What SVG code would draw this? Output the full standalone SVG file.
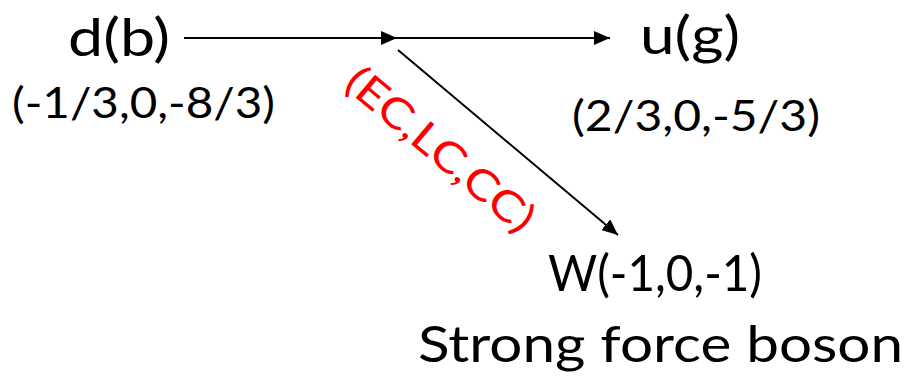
<svg xmlns="http://www.w3.org/2000/svg" width="907" height="376" viewBox="0 0 907 376">
  <style>
    text { font-family: Lato, "Noto Sans", "Liberation Sans", sans-serif; fill: #000; }
    .big { font-size: 53px; }
    .mid { font-size: 43px; }
    .lab { font-size: 50px; }
    .red { font-size: 42px; fill: #ff0000; }
    .wire { stroke: #000; stroke-width: 2; fill: none; marker-end: url(#arrowH); }
  </style>
  <defs>
    <marker id="arrowH" viewBox="0 0 10 10" refX="10" refY="5" markerWidth="16" markerHeight="14" markerUnits="userSpaceOnUse" orient="auto" preserveAspectRatio="none">
      <path d="M0,0 L10,5 L0,10 Z" fill="#000"/>
    </marker>
  </defs>
  <rect width="907" height="376" fill="#fff"/>

  <g id="connectors">
    <line class="wire" x1="184" y1="38" x2="397" y2="38"/>
    <line class="wire" x1="397" y1="38" x2="610" y2="38"/>
    <line class="wire" x1="398" y1="50" x2="618" y2="235"/>
  </g>

  <g id="node-d">
    <text class="big" x="68" y="56" textLength="102" lengthAdjust="spacingAndGlyphs">d(b)</text>
    <text class="mid" x="12" y="118" textLength="263" lengthAdjust="spacingAndGlyphs">(-1/3,0,-8/3)</text>
  </g>
  <g id="node-u">
    <text class="big" x="640" y="54" textLength="100" lengthAdjust="spacingAndGlyphs">u(g)</text>
    <text class="mid" x="572" y="131" textLength="248" lengthAdjust="spacingAndGlyphs">(2/3,0,-5/3)</text>
  </g>
  <g id="node-w">
    <text class="lab" x="548" y="291" textLength="214" lengthAdjust="spacingAndGlyphs">W(-1,0,-1)</text>
    <text class="lab" x="418" y="362" textLength="485" lengthAdjust="spacingAndGlyphs">Strong force boson</text>
  </g>
  <g id="label-coupling">
    <text class="red" transform="translate(440,150) rotate(40)" x="0" y="14" text-anchor="middle" textLength="232" lengthAdjust="spacingAndGlyphs">(EC,LC,CC)</text>
  </g>
</svg>
